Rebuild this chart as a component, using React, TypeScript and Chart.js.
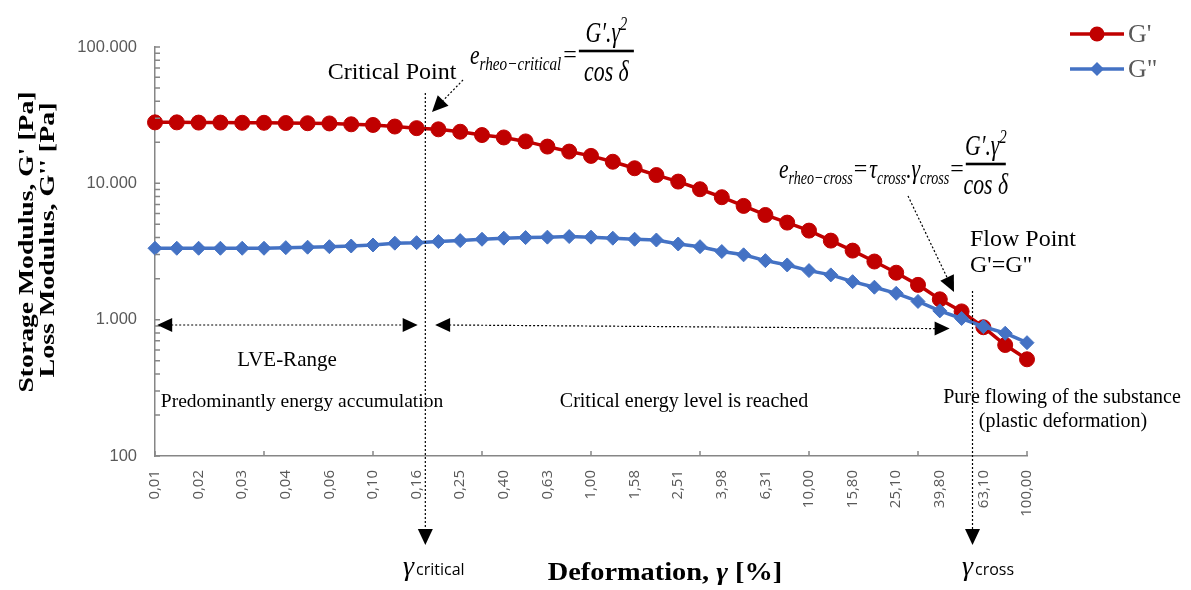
import { useEffect, useRef } from 'react';
import { Chart, registerables } from 'chart.js';

Chart.register(...registerables);

// Strain sweep, 10 points per decade from 0.01 % to 100 %
const strainLabels = [
  '0,01', '0,01', '0,02', '0,02', '0,03', '0,03', '0,04', '0,05', '0,06', '0,08',
  '0,10', '0,13', '0,16', '0,20', '0,25', '0,32', '0,40', '0,50', '0,63', '0,79',
  '1,00', '1,26', '1,58', '2,00', '2,51', '3,16', '3,98', '5,01', '6,31', '7,94',
  '10,00', '12,60', '15,80', '20,00', '25,10', '31,60', '39,80', '50,10', '63,10', '79,40',
  '100,00',
];

// Storage modulus G' [Pa]
const storageModulus = [
  28000, 28000, 27900, 27900, 27800, 27800, 27700, 27600, 27500, 27100,
  26800, 26100, 25400, 24900, 23900, 22600, 21700, 20300, 18600, 17100,
  15900, 14400, 12900, 11500, 10300, 9050, 7910, 6830, 5860, 5150,
  4500, 3800, 3210, 2670, 2210, 1800, 1410, 1150, 880, 652,
  512,
];

// Loss modulus G'' [Pa]
const lossModulus = [
  3340, 3340, 3340, 3340, 3340, 3340, 3375, 3400, 3430, 3470,
  3530, 3640, 3670, 3740, 3800, 3890, 3960, 4000, 4030, 4070,
  4030, 3960, 3890, 3840, 3590, 3430, 3160, 2990, 2710, 2520,
  2290, 2130, 1900, 1730, 1560, 1360, 1160, 1020, 889, 795,
  678,
];

const yMin = 100;
const yMax = 100000;

// Characteristic strains (fractional category positions)
const criticalIndex = 12.4;
const crossIndex = 37.5;

const RED = '#C00000';
const BLUE = '#4472C4';
const AXIS = '#868686';
const TICK_TEXT = '#595959';
const SERIF = '"Liberation Serif", "Times New Roman", serif';

const fmtThousands = (v: number) => String(Math.round(v)).replace(/\B(?=(\d{3})+(?!\d))/g, '.');

function arrowHead(ctx: CanvasRenderingContext2D, tx: number, ty: number, angle: number, len = 15, half = 7.5) {
  ctx.save();
  ctx.translate(tx, ty);
  ctx.rotate(angle);
  ctx.beginPath();
  ctx.moveTo(0, 0);
  ctx.lineTo(-len, -half);
  ctx.lineTo(-len, half);
  ctx.closePath();
  ctx.fillStyle = '#000';
  ctx.fill();
  ctx.restore();
}

function dotted(ctx: CanvasRenderingContext2D, x1: number, y1: number, x2: number, y2: number) {
  ctx.save();
  ctx.setLineDash([2, 2]);
  ctx.lineWidth = 1.2;
  ctx.strokeStyle = '#000';
  ctx.beginPath();
  ctx.moveTo(x1, y1);
  ctx.lineTo(x2, y2);
  ctx.stroke();
  ctx.restore();
}

// Dotted line from (x1,y1) with a filled head at (x2,y2)
function dottedArrow(ctx: CanvasRenderingContext2D, x1: number, y1: number, x2: number, y2: number, len = 15, half = 7.5) {
  const a = Math.atan2(y2 - y1, x2 - x1);
  dotted(ctx, x1, y1, x2 - Math.cos(a) * len, y2 - Math.sin(a) * len);
  arrowHead(ctx, x2, y2, a, len, half);
}

type Seg = { t: string; size: number; dy?: number; upright?: boolean; bold?: boolean; sx?: number; gap?: number };

const segFont = (s: Seg) => `${s.upright ? '' : 'italic '}${s.bold ? 'bold ' : ''}${s.size}px ${SERIF}`;

function drawRun(ctx: CanvasRenderingContext2D, x: number, baseline: number, segs: Seg[]) {
  let cx = x;
  ctx.textAlign = 'left';
  ctx.textBaseline = 'alphabetic';
  for (const s of segs) {
    ctx.font = segFont(s);
    const sx = s.sx ?? 0.8;
    ctx.save();
    ctx.translate(cx, baseline + (s.dy || 0));
    ctx.scale(sx, 1);
    ctx.fillText(s.t, 0, 0);
    ctx.restore();
    cx += ctx.measureText(s.t).width * sx + (s.gap || 0);
  }
  return cx;
}

function runWidth(ctx: CanvasRenderingContext2D, segs: Seg[]) {
  let w = 0;
  for (const s of segs) {
    ctx.font = segFont(s);
    w += ctx.measureText(s.t).width * (s.sx ?? 0.8) + (s.gap || 0);
  }
  return w;
}

// G'.γ² over cos δ
function drawFraction(ctx: CanvasRenderingContext2D, x0: number, barY: number, barW: number) {
  ctx.fillStyle = '#000';
  ctx.fillRect(x0, barY - 1.3, barW, 2.6);
  const cx = x0 + barW / 2;
  const num: Seg[] = [
    { t: 'G′.γ', size: 29, sx: 0.75 },
    { t: '2', size: 18, dy: -12, sx: 0.8 },
  ];
  drawRun(ctx, cx - runWidth(ctx, num) / 2, barY - 9, num);
  const den: Seg[] = [{ t: 'cos δ', size: 29, sx: 0.75 }];
  drawRun(ctx, cx - runWidth(ctx, den) / 2, barY + 30, den);
}

// Centred text stretched to a given length
function stretchedText(ctx: CanvasRenderingContext2D, text: string, cx: number, cy: number, length: number) {
  const w = ctx.measureText(text).width;
  ctx.save();
  ctx.translate(cx, cy);
  ctx.scale(length / w, 1);
  ctx.textAlign = 'center';
  ctx.fillText(text, 0, 0);
  ctx.restore();
}

const annotations = {
  id: 'rheoAnnotations',
  afterDraw(chart: Chart) {
    const ctx = chart.ctx;
    const xs = chart.scales.x;
    const ys = chart.scales.y;
    const area = chart.chartArea;
    ctx.save();

    // inward tick marks
    ctx.strokeStyle = AXIS;
    ctx.lineWidth = 1.5;
    ctx.beginPath();
    for (let i = 0; i < strainLabels.length; i += 5) {
      const px = xs.getPixelForValue(i);
      ctx.moveTo(px, area.bottom);
      ctx.lineTo(px, area.bottom - 5);
    }
    for (let d = yMin; d < yMax; d *= 10) {
      for (let m = 1; m <= 10; m++) {
        const py = ys.getPixelForValue(d * m);
        ctx.moveTo(area.left, py);
        ctx.lineTo(area.left + 5, py);
      }
    }
    ctx.stroke();

    // characteristic strain markers
    const xCrit = xs.getPixelForValue(criticalIndex);
    const xCross = xs.getPixelForValue(crossIndex);
    dottedArrow(ctx, xCrit, 93, xCrit, 545, 16, 7.5);
    dottedArrow(ctx, xCross, 291, xCross, 545, 16, 7.5);

    // LVE range and energy range arrows
    const yArrow = ys.getPixelForValue(914);
    const yArrow2 = ys.getPixelForValue(860);
    const l1 = xs.getPixelForValue(0.1);
    const r1 = xs.getPixelForValue(12.05);
    const l2 = xs.getPixelForValue(12.85);
    const r2 = xs.getPixelForValue(36.45);
    dotted(ctx, l1 + 14, yArrow, r1 - 14, yArrow);
    arrowHead(ctx, l1, yArrow, Math.PI, 15, 7);
    arrowHead(ctx, r1, yArrow, 0, 15, 7);
    dotted(ctx, l2 + 14, yArrow, r2 - 14, yArrow2);
    arrowHead(ctx, l2, yArrow, Math.PI, 15, 7);
    arrowHead(ctx, r2, yArrow2, 0, 15, 7);

    // pointers to the formulas
    dottedArrow(ctx, 463, 80, 432, 112, 16, 7.5);
    dottedArrow(ctx, 908, 196, 954, 292, 16, 7.5);

    // region texts
    ctx.fillStyle = '#000';
    ctx.textBaseline = 'alphabetic';
    ctx.textAlign = 'center';
    ctx.font = `24px ${SERIF}`;
    ctx.fillText('Critical Point', 392, 79);
    ctx.font = `21px ${SERIF}`;
    ctx.fillText('LVE-Range', 287, 366);
    ctx.font = `19.5px ${SERIF}`;
    ctx.fillText('Predominantly energy accumulation', 302, 407);
    ctx.font = `20px ${SERIF}`;
    ctx.fillText('Critical energy level is reached', 684, 407);
    ctx.fillText('Pure flowing of the substance', 1062, 403);
    ctx.fillText('(plastic deformation)', 1063, 427);
    ctx.textAlign = 'left';
    ctx.font = `24px ${SERIF}`;
    ctx.fillText('Flow Point', 970, 246);
    ctx.fillText('G\'=G"', 970, 272);

    // e_rheo-critical = G'.γ² / cos δ
    const bar1 = 51;
    const end1 = drawRun(ctx, 470, bar1 + 13, [
      { t: 'e', size: 27 },
      { t: 'rheo−critical', size: 19, dy: 6, gap: 2, sx: 0.8 },
      { t: '=', size: 24, upright: true, dy: -2, sx: 1, gap: 2 },
    ]);
    drawFraction(ctx, end1, bar1, 55);

    // e_rheo-cross = τ_cross·γ_cross = G'.γ² / cos δ
    const bar2 = 164;
    const end2 = drawRun(ctx, 779, bar2 + 14, [
      { t: 'e', size: 27 },
      { t: 'rheo−cross', size: 19, dy: 6, gap: 1, sx: 0.74 },
      { t: '=', size: 24, upright: true, dy: -2, sx: 1, gap: 2 },
      { t: 'τ', size: 27 },
      { t: 'cross', size: 19, dy: 6, sx: 0.74 },
      { t: '.', size: 27 },
      { t: 'γ', size: 27 },
      { t: 'cross', size: 19, dy: 6, gap: 1, sx: 0.74 },
      { t: '=', size: 24, upright: true, dy: -2, sx: 1, gap: 2 },
    ]);
    drawFraction(ctx, end2, bar2, 40);

    // strain symbols under the axis
    const gammaLabel = (x: number, sub: string) => {
      ctx.textAlign = 'left';
      ctx.fillStyle = '#000';
      ctx.font = `italic 28px ${SERIF}`;
      ctx.fillText('γ', x, 575);
      const w = ctx.measureText('γ').width;
      ctx.font = '16px "Open Sans", sans-serif';
      ctx.fillText(sub, x + w + 2, 575);
    };
    gammaLabel(403, 'critical');
    gammaLabel(962, 'cross');

    // x axis title: Deformation, γ [%]
    const xTitle: Seg[] = [
      { t: 'Deformation, ', size: 26, upright: true, bold: true, sx: 1.09 },
      { t: 'γ', size: 26, bold: true, sx: 1.09 },
      { t: ' [%]', size: 26, upright: true, bold: true, sx: 1.09 },
    ];
    drawRun(ctx, 665 - runWidth(ctx, xTitle) / 2, 580, xTitle);

    // y axis title, two lines
    ctx.save();
    ctx.font = `bold 22px ${SERIF}`;
    ctx.textBaseline = 'middle';
    ctx.save();
    ctx.translate(27, 242);
    ctx.rotate(-Math.PI / 2);
    stretchedText(ctx, "Storage Modulus, G' [Pa]", 0, 0, 301);
    ctx.restore();
    ctx.save();
    ctx.translate(48, 240);
    ctx.rotate(-Math.PI / 2);
    stretchedText(ctx, "Loss Modulus, G'' [Pa]", 0, 0, 275);
    ctx.restore();
    ctx.restore();

    // legend
    const legendRow = (y: number, color: string, label: string, diamond: boolean) => {
      ctx.strokeStyle = color;
      ctx.lineWidth = 3.5;
      ctx.setLineDash([]);
      ctx.beginPath();
      ctx.moveTo(1070, y);
      ctx.lineTo(1124, y);
      ctx.stroke();
      ctx.fillStyle = color;
      ctx.beginPath();
      if (diamond) {
        ctx.moveTo(1097, y - 7);
        ctx.lineTo(1104, y);
        ctx.lineTo(1097, y + 7);
        ctx.lineTo(1090, y);
        ctx.closePath();
      } else {
        ctx.arc(1097, y, 7.5, 0, Math.PI * 2);
      }
      ctx.fill();
      ctx.fillStyle = TICK_TEXT;
      ctx.textAlign = 'left';
      ctx.textBaseline = 'middle';
      ctx.font = `26px ${SERIF}`;
      ctx.fillText(label, 1128, y + 1);
    };
    legendRow(34, RED, "G'", false);
    legendRow(69, BLUE, 'G"', true);

    ctx.restore();
  },
};

export default function App() {
  const canvasRef = useRef<HTMLCanvasElement | null>(null);

  useEffect(() => {
    const canvas = canvasRef.current;
    if (!canvas) return;
    const chart = new Chart(canvas, {
      type: 'line',
      data: {
        labels: strainLabels,
        datasets: [
          {
            label: "G'",
            data: storageModulus,
            borderColor: RED,
            backgroundColor: RED,
            borderWidth: 3.5,
            pointStyle: 'circle',
            pointRadius: 7.5,
            pointBorderWidth: 1,
            pointBackgroundColor: RED,
            pointBorderColor: RED,
            tension: 0,
            clip: false,
            order: 2,
          },
          {
            label: 'G"',
            data: lossModulus,
            borderColor: BLUE,
            backgroundColor: BLUE,
            borderWidth: 3.5,
            pointStyle: 'rectRot',
            pointRadius: 7,
            pointBorderWidth: 1,
            pointBackgroundColor: BLUE,
            pointBorderColor: BLUE,
            tension: 0,
            clip: false,
            order: 1,
          },
        ],
      },
      options: {
        responsive: false,
        animation: false,
        devicePixelRatio: 1,
        layout: { padding: { left: 0, right: 164, top: 47, bottom: 0 } },
        plugins: {
          legend: { display: false },
          tooltip: { enabled: false },
        },
        scales: {
          x: {
            type: 'category',
            offset: false,
            afterFit: (s: any) => { s.height = 134; },
            grid: { display: false, drawTicks: false },
            border: { display: true, color: AXIS, width: 1.5 },
            ticks: {
              autoSkip: false,
              minRotation: 90,
              maxRotation: 90,
              padding: 14,
              color: TICK_TEXT,
              font: { family: '"Open Sans", sans-serif', size: 15 },
              callback: (_v: any, i: number) => (i % 2 === 0 ? strainLabels[i] : ''),
            },
          },
          y: {
            type: 'logarithmic',
            min: yMin,
            max: yMax,
            afterFit: (s: any) => { s.width = 155; },
            grid: { display: false, drawTicks: false },
            border: { display: true, color: AXIS, width: 1.5 },
            ticks: {
              autoSkip: false,
              padding: 18,
              color: TICK_TEXT,
              font: { family: '"Liberation Sans", Arial, sans-serif', size: 16.5 },
              callback: (v: any) => {
                const l = Math.log10(Number(v));
                return Math.abs(l - Math.round(l)) < 1e-9 ? fmtThousands(Number(v)) : '';
              },
            },
          },
        },
      },
      plugins: [annotations],
    });
    return () => chart.destroy();
  }, []);

  return (
    <div style={{ position: 'absolute', left: 0, top: 0, width: 1191, height: 590, background: '#fff' }}>
      <canvas ref={canvasRef} width={1191} height={590} style={{ width: 1191, height: 590, display: 'block' }} />
    </div>
  );
}
